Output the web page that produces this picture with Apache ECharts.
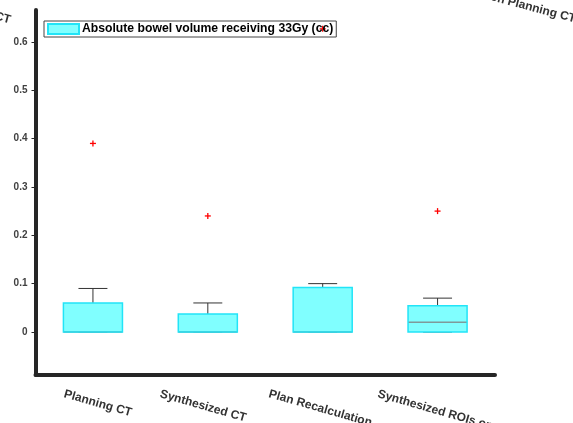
<!DOCTYPE html>
<html>
<head>
<meta charset="utf-8">
<script src="https://cdn.jsdelivr.net/npm/echarts@6/dist/echarts.min.js"></script>
<style>
  html, body { margin: 0; padding: 0; background: #fff; }
  #chart { width: 573px; height: 423px; }
</style>
</head>
<body>
<div id="chart"></div>
<script>
// Absolute bowel volume receiving 33Gy (cc), per plan type
const categories = ['Planning CT', 'Synthesized CT', 'Plan Recalculation', 'Synthesized ROIs on Planning CT'];
const lowerWhisker = [0, 0, 0, 0];
const q1 = [0, 0, 0, 0];
const median = [0, 0, 0, 0.02];
const q3 = [0.06, 0.037, 0.092, 0.054];
const upperWhisker = [0.09, 0.06, 0.10, 0.07];
// outliers: [category index, value]
const outliers = [[0, 0.39], [1, 0.24], [2, 0.627], [3, 0.25]];
const yTicks = [0, 0.1, 0.2, 0.3, 0.4, 0.5, 0.6];
const seriesName = 'Absolute bowel volume receiving 33Gy (cc)';

const boxData = categories.map((c, i) => [i, lowerWhisker[i], q1[i], median[i], q3[i], upperWhisker[i]]);

const labelFont = { fontFamily: 'Liberation Sans, Arial, sans-serif', fontWeight: 'bold' };

// each tick label starts left of its tick by this many pixels, all at one height
const labelShift = [27, 46, 52, 58];
const labelAngle = 16;
const labelFontSize = 12;
const rad = labelAngle * Math.PI / 180;
const labelRich = {};
labelShift.forEach((s, i) => {
  labelRich['c' + i] = Object.assign({
    fontSize: labelFontSize, color: '#333333',
    padding: [s * Math.sin(rad), 0, 0, -s * Math.cos(rad)]
  }, labelFont);
});

const chart = echarts.init(document.getElementById('chart'), null, { renderer: 'canvas' });

function renderBox(params, api) {
  const x = api.value(0);
  const band = api.size([1, 0])[0];
  const half = band * 0.257;
  const cap = band * 0.126;
  const pLow = api.coord([x, api.value(1)]);
  const pQ1 = api.coord([x, api.value(2)]);
  const pMed = api.coord([x, api.value(3)]);
  const pQ3 = api.coord([x, api.value(4)]);
  const pHigh = api.coord([x, api.value(5)]);
  const cx = pQ1[0];
  const whisker = { stroke: '#333333', lineWidth: 1 };
  return {
    type: 'group',
    children: [
      { type: 'line', shape: { x1: cx, y1: pQ3[1], x2: cx, y2: pHigh[1] }, style: whisker },
      { type: 'line', shape: { x1: cx - cap, y1: pHigh[1], x2: cx + cap, y2: pHigh[1] }, style: whisker },
      { type: 'line', shape: { x1: cx, y1: pQ1[1], x2: cx, y2: pLow[1] }, style: whisker },
      { type: 'line', shape: { x1: cx - cap, y1: pLow[1], x2: cx + cap, y2: pLow[1] }, style: whisker },
      { type: 'rect', shape: { x: cx - half, y: pQ3[1], width: half * 2, height: pQ1[1] - pQ3[1] },
        style: { fill: '#80ffff', stroke: null } },
      { type: 'line', shape: { x1: cx - half, y1: pMed[1], x2: cx + half, y2: pMed[1] },
        style: { stroke: '#7f9a9a', lineWidth: 1.5 } },
      { type: 'rect', shape: { x: cx - half, y: pQ3[1], width: half * 2, height: pQ1[1] - pQ3[1] },
        style: { fill: null, stroke: '#22e4f7', lineWidth: 1.5 } }
    ]
  };
}

function renderOutlier(params, api) {
  const p = api.coord([api.value(0), api.value(1)]);
  const r = 3;
  const st = { stroke: '#ff0000', lineWidth: 1.3 };
  return {
    type: 'group',
    children: [
      { type: 'line', shape: { x1: p[0] - r, y1: p[1], x2: p[0] + r, y2: p[1] }, style: st },
      { type: 'line', shape: { x1: p[0], y1: p[1] - r, x2: p[0], y2: p[1] + r }, style: st }
    ]
  };
}

chart.setOption({
  animation: false,
  backgroundColor: '#ffffff',
  grid: { left: 35.5, right: 78, top: 10, bottom: 48, outerBoundsMode: 'none', containLabel: false },
  legend: {
    left: 44, top: 21,
    orient: 'vertical',
    padding: [2, 3, 2, 3],
    borderColor: '#444444', borderWidth: 1,
    itemWidth: 31, itemHeight: 10, itemGap: 0,
    selectedMode: false,
    data: [{ name: seriesName, icon: 'rect' }],
    textStyle: Object.assign({ fontSize: 12.2, color: '#000000', padding: [0, 0, 0, -2] }, labelFont)
  },
  xAxis: {
    type: 'category',
    data: categories,
    axisLine: { onZero: false, lineStyle: { color: '#262626', width: 4 } },
    axisTick: { alignWithLabel: true, length: 4, lineStyle: { color: '#262626', width: 1 } },
    axisLabel: Object.assign({
      rotate: -labelAngle, align: 'left', verticalAlign: 'top', margin: 13,
      fontSize: labelFontSize, color: '#333333', interval: 0,
      formatter: (value, index) => '{c' + index + '|' + value + '}',
      rich: labelRich
    }, labelFont),
    splitLine: { show: false }
  },
  yAxis: {
    type: 'value',
    min: -0.089, max: 0.666,
    axisLine: { show: true, lineStyle: { color: '#262626', width: 4 } },
    axisTick: { show: true, length: 4, customValues: yTicks, lineStyle: { color: '#262626', width: 1 } },
    axisLabel: Object.assign({
      customValues: yTicks, fontSize: 10, color: '#404040', margin: 8,
      formatter: v => String(Math.round(v * 10) / 10)
    }, labelFont),
    splitLine: { show: false }
  },
  series: [
    {
      name: seriesName,
      type: 'custom',
      renderItem: renderBox,
      itemStyle: { color: '#80ffff', borderColor: '#22e4f7', borderWidth: 1 },
      encode: { x: 0, y: [1, 2, 3, 4, 5] },
      data: boxData,
      z: 2
    },
    {
      name: 'outliers',
      type: 'custom',
      renderItem: renderOutlier,
      encode: { x: 0, y: 1 },
      data: outliers,
      z: 3
    }
  ],
  graphic: [
    {
      type: 'text', x: 9, y: 26, rotation: -0.26,
      style: Object.assign({ text: 'Synthesized ROIs on Planning CT', fontSize: 12, fill: '#333333',
        align: 'right', verticalAlign: 'bottom' }, labelFont)
    },
    {
      type: 'text', x: 574, y: 25, rotation: -0.26,
      style: Object.assign({ text: 'Synthesized ROIs on Planning CT', fontSize: 12, fill: '#333333',
        align: 'right', verticalAlign: 'bottom' }, labelFont)
    }
  ]
});
</script>
</body>
</html>
